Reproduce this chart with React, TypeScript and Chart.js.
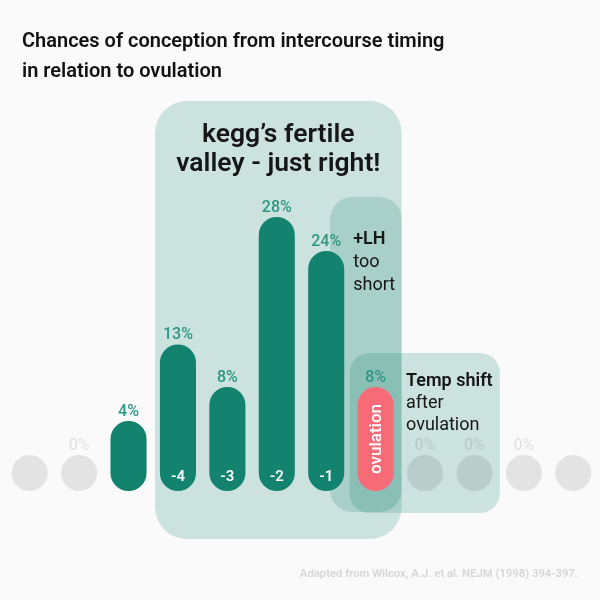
import { useEffect, useRef } from "react";
import { Chart, registerables } from "chart.js";
import type { Plugin } from "chart.js";

Chart.register(...registerables);

// days relative to ovulation (0) – only some of them get a label inside the bar
const DAYS = ["-7", "-6", "-5", "-4", "-3", "-2", "-1", "0", "+1", "+2", "+3", "+4"];
const CHANCES = [0, 0, 4, 13, 8, 28, 24, 8, 0, 0, 0, 0];
const VALUE_LABELS = ["", "0%", "4%", "13%", "8%", "28%", "24%", "8%", "0%", "0%", "0%", ""];
const BAR_LABELS = ["", "", "", "-4", "-3", "-2", "-1", "ovulation", "", "", "", ""];
const OVULATION_DAY = "0";

// every pill starts this far below zero, so a 0% day shows up as a dot
const PILL_BASE = 4.24;
const Y_MAX = 41.76;

const TITLE_LINES = ["Chances of conception from intercourse timing", "in relation to ovulation"];
const VALLEY_LINES = ["kegg\u2019s fertile", "valley - just right!"];
const LH_LINES = ["+LH", "too", "short"];
const TEMP_LINES = ["Temp shift", "after", "ovulation"];
const SOURCE = "Adapted from Wilcox, A.J. et al. NEJM (1998) 394-397.";

const TEAL = "#13826f";
const PINK = "#f76b78";
const DOT = "rgba(0, 0, 0, 0.09)";
const LABEL_TEAL = "#2e9783";
const BOX_FILL = "rgba(19, 130, 111, 0.2)";
const INK = "#161616";
const FONT = "Roboto, 'Noto Sans', sans-serif";

function box(ctx: CanvasRenderingContext2D, x0: number, y0: number, x1: number, y1: number, r: number) {
  ctx.beginPath();
  ctx.roundRect(x0, y0, x1 - x0, y1 - y0, r);
  ctx.fill();
}

function lines(ctx: CanvasRenderingContext2D, text: string[], x: number, y: number, step: number, fonts: string[]) {
  text.forEach((t, i) => {
    ctx.font = fonts[i] ?? fonts[fonts.length - 1];
    ctx.fillText(t, x, y + i * step);
  });
}

const overlayPlugin: Plugin<"bar"> = {
  id: "kegg-overlay",
  beforeDatasetsDraw(chart) {
    const { ctx } = chart;
    const px = (i: number) => chart.scales.x.getPixelForValue(i);
    ctx.save();
    ctx.fillStyle = BOX_FILL;
    box(ctx, px(3) - 23, 101, px(7) + 26, 539, 32); // fertile valley
    box(ctx, px(6) + 4, 197, px(7) + 26, 512, 22); // +LH
    box(ctx, px(7) - 26, 353, px(10) - 24, 513, 20); // temp shift
    ctx.restore();
  },
  afterDatasetsDraw(chart) {
    const { ctx } = chart;
    const meta = chart.getDatasetMeta(0);
    ctx.save();
    ctx.textAlign = "center";
    ctx.textBaseline = "middle";

    meta.data.forEach((bar, i) => {
      const { x, y, base } = bar.getProps(["x", "y", "base"], true) as { x: number; y: number; base: number };
      // floating bars may swap head/base, so sort them
      const top = Math.min(y, base);
      const bottom = Math.max(y, base);
      if (VALUE_LABELS[i]) {
        ctx.font = `500 16px ${FONT}`;
        ctx.fillStyle = CHANCES[i] === 0 ? DOT : LABEL_TEAL;
        ctx.fillText(VALUE_LABELS[i], x, top - 9);
      }
      if (!BAR_LABELS[i]) return;
      ctx.fillStyle = "#ffffff";
      if (DAYS[i] === OVULATION_DAY) {
        ctx.save();
        ctx.translate(x, (top + bottom) / 2);
        ctx.rotate(-Math.PI / 2);
        ctx.font = `500 17px ${FONT}`;
        ctx.fillText(BAR_LABELS[i], 0, 1);
        ctx.restore();
      } else {
        ctx.font = `600 15px ${FONT}`;
        ctx.fillText(BAR_LABELS[i], x, bottom - 14);
      }
    });

    ctx.textBaseline = "alphabetic";
    ctx.fillStyle = INK;
    const px = (i: number) => chart.scales.x.getPixelForValue(i);
    lines(ctx, VALLEY_LINES, (px(3) - 23 + px(7) + 26) / 2, 142, 29, [`600 26.5px ${FONT}`]);

    ctx.textAlign = "left";
    lines(ctx, LH_LINES, px(6) + 27, 244, 23, [`600 18px ${FONT}`, `400 18px ${FONT}`]);
    lines(ctx, TEMP_LINES, px(8) - 19, 386, 22, [`600 18px ${FONT}`, `400 18px ${FONT}`]);

    ctx.fillStyle = "#111111";
    lines(ctx, TITLE_LINES, 22, 47, 30, [`600 20px ${FONT}`]);

    ctx.textAlign = "right";
    ctx.fillStyle = "#d6d6d6";
    ctx.font = `600 11.3px ${FONT}`;
    ctx.fillText(SOURCE, 578, 577);
    ctx.restore();
  },
};

export default function App() {
  const canvasRef = useRef<HTMLCanvasElement>(null);

  useEffect(() => {
    if (!canvasRef.current) return;

    const chart = new Chart(canvasRef.current, {
      type: "bar",
      data: {
        labels: DAYS,
        datasets: [
          {
            label: "Chance of conception",
            data: CHANCES.map((v) => [-PILL_BASE, v]) as unknown as number[],
            backgroundColor: DAYS.map((d, i) =>
              d === OVULATION_DAY ? PINK : CHANCES[i] === 0 ? DOT : TEAL
            ),
            borderWidth: 0,
            borderRadius: 18,
            borderSkipped: false,
            barPercentage: 0.73,
            categoryPercentage: 1,
          },
        ],
      },
      options: {
        responsive: true,
        maintainAspectRatio: false,
        animation: false,
        layout: { padding: { top: 100, bottom: 109, left: 5, right: 2 } },
        plugins: {
          legend: { display: false },
          tooltip: { enabled: false },
          title: { display: false },
        },
        scales: {
          x: { display: false, grid: { display: false } },
          y: { display: false, min: -PILL_BASE, max: Y_MAX, grid: { display: false } },
        },
      },
      plugins: [overlayPlugin],
    });

    return () => {
      chart.destroy();
    };
  }, []);

  return (
    <div style={{ position: "fixed", left: 0, top: 0, width: 600, height: 600, background: "#fafafa" }}>
      <canvas ref={canvasRef}></canvas>
    </div>
  );
}
